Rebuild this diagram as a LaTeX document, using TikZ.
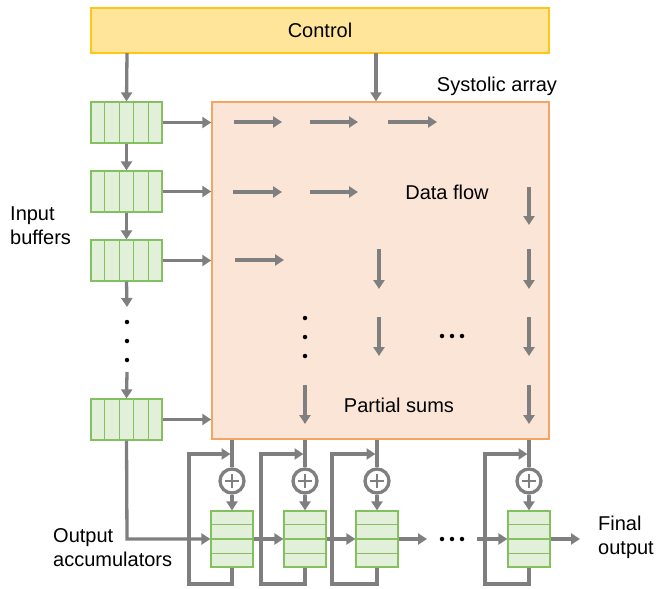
\documentclass[tikz,border=0pt]{standalone}
\usepackage{fontspec}
\setmainfont{Liberation Sans}
\usetikzlibrary{arrows.meta,calc}
\definecolor{ctrlfill}{HTML}{FFE599}
\definecolor{ctrldraw}{HTML}{FFC517}
\definecolor{arrfill}{HTML}{FBE5D6}
\definecolor{arrdraw}{HTML}{F4A464}
\definecolor{buffill}{HTML}{E2F0D9}
\definecolor{bufdraw}{HTML}{82C060}
\definecolor{linegray}{HTML}{7F7F7F}
\tikzset{
  lbl/.style={font=\fontsize{20}{24}\selectfont, inner sep=0pt},
  ctrlbox/.style={draw=ctrldraw, fill=ctrlfill, line width=1.5pt, inner sep=0pt},
  arraybox/.style={draw=arrdraw, fill=arrfill, line width=1.5pt, inner sep=0pt},
  buf/.style={draw=bufdraw, fill=buffill, line width=1.2pt, minimum width=71pt, minimum height=41pt, inner sep=0pt},
  acc/.style={draw=bufdraw, fill=buffill, line width=1.2pt, minimum width=42pt, minimum height=56pt, inner sep=0pt},
  divline/.style={draw=bufdraw, line width=1.2pt},
  conn/.style={draw=linegray, line width=3.3pt},
  arr/.style={conn, -{Triangle[length=9pt,width=11pt]}},
  adder/.style={circle, draw=linegray, line width=3.3pt, fill=white, minimum size=24pt, inner sep=0pt},
  dotc/.style={fill=black, circle, inner sep=0pt, minimum size=4.5pt},
}
\begin{document}
\begin{tikzpicture}[x=1pt,y=-1pt]
\useasboundingbox (0,0) rectangle (657,589);
% control and array
\node[ctrlbox, minimum width=458pt, minimum height=45pt] (ctrl) at (320,30.5) {};
\node[lbl] at (ctrl.center) {Control};
\node[arraybox, minimum width=337pt, minimum height=337pt] (sa) at (380.5,270.5) {};
\node[lbl] (salbl) at (497,86) {Systolic array};
% input buffers
\foreach \n/\y in {b1/122.5,b2/191.5,b3/260.5,b4/419.5}{
  \node[buf] (\n) at (126.5,\y) {};
  \foreach \i in {1,...,4}
    \draw[divline] ($(\n.north west)!\i/5!(\n.north east)$) -- ($(\n.south west)!\i/5!(\n.south east)$);
  \draw[arr] (\n.east) -- (\n.east -| sa.west);
}
\coordinate (ctrlL) at (127,53);
\coordinate (ctrlR) at (376,53);
\draw[arr] (ctrlL) -- (b1.north);
\draw[arr] (ctrlR) -- (ctrlR |- sa.north);
\draw[arr] (b1.south) -- (b2.north);
\draw[arr] (b2.south) -- (b3.north);
\coordinate (vd1) at (127,307);
\coordinate (vd2) at (127,372);
\draw[arr] (b3.south) -- (vd1);
\draw[arr] (vd2) -- (b4.north);
\foreach \y in {322,341,360} \node[dotc] at (127,\y) {};
% inner arrows
\foreach \a/\b/\y in {234/282/122,310/358/122,388/437/122,233/282/192,310/358/192,235/284/260}
  \draw[arr] (\a,\y) -- (\b,\y);
\foreach \x/\a/\b in {529/187/225,379/249/289,529/249/289,379/317/356,529/317/356,305/385/424,529/385/424}
  \draw[arr] (\x,\a) -- (\x,\b);
\foreach \y in {318,337,356} \node[dotc] at (305,\y) {};
\foreach \x in {442,452,462} \node[dotc] at (\x,336) {};
\node[lbl] at (447,192) {Data flow};
\node[lbl] at (399,405) {Partial sums};
% accumulators
\foreach \n/\x/\lx in {1/232/189,2/305/261,3/377/332,4/529/485}{
  \node[acc] (a\n) at (\x,539) {};
  \foreach \i in {1,...,3}
    \draw[divline] ($(a\n.north west)!\i/4!(a\n.south west)$) -- ($(a\n.north east)!\i/4!(a\n.south east)$);
  \node[adder] (s\n) at (\x,481) {};
  \draw[linegray, line width=2.4pt] ($(s\n.center)+(-7,0)$) -- ($(s\n.center)+(7,0)$);
  \draw[linegray, line width=2.4pt] ($(s\n.center)+(0,-7)$) -- ($(s\n.center)+(0,7)$);
  \draw[conn] (s\n.north |- sa.south) -- (s\n.north);
  \draw[arr] (s\n.south) -- (a\n.north);
  \coordinate (lb\n) at (\lx,584);
  \coordinate (lt\n) at (\lx,454);
  \draw[arr] (a\n.south) -- (a\n.south |- lb\n) -- (lb\n) -- (lt\n) -- ($(lt\n -| a\n.north)+(-1.5,0)$);
}
\coordinate (corner) at (127,539);
\draw[arr] (b4.south) -- (corner) -- (a1.west);
\draw[arr] (a1.east) -- (a2.west);
\draw[arr] (a2.east) -- (a3.west);
\coordinate (c3) at (427,539);
\coordinate (c4) at (477,539);
\coordinate (fo) at (580,539);
\draw[arr] (a3.east) -- (c3);
\foreach \x in {442,452,462} \node[dotc] at (\x,539) {};
\draw[arr] (c4) -- (a4.west);
\draw[arr] (a4.east) -- (fo);
% labels
\node[lbl, anchor=west, align=left] at (10,226) {Input\\buffers};
\node[lbl, anchor=west, align=left] at (53,548) {Output\\accumulators};
\node[lbl, anchor=west, align=left] at (598,537) {Final\\output};
\end{tikzpicture}
\end{document}
